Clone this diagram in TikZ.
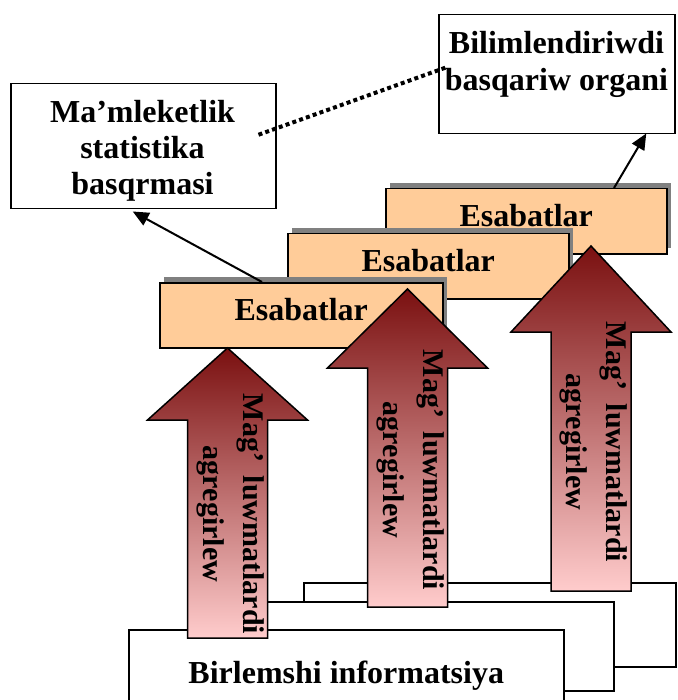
\documentclass[tikz,border=0pt]{standalone}
\usepackage{fontspec}
\setmainfont{Liberation Serif}
\usetikzlibrary{arrows.meta,calc}
\definecolor{orangefill}{HTML}{FFCC99}
\definecolor{shadowgray}{HTML}{808080}
\definecolor{arrowtop}{HTML}{7A1010}
\definecolor{arrowbot}{HTML}{FFCCCC}
\tikzset{
  whitebox/.style={draw=black, line width=1.5pt, fill=white, inner sep=0pt, anchor=north west},
  esbox/.style={draw=black, line width=1.5pt, fill=orangefill, inner sep=0pt, anchor=north west,
    minimum height=65pt, text depth=12pt, font=\fontsize{32}{36}\selectfont\bfseries},
  esshadow/.style={fill=shadowgray, draw=none, inner sep=0pt, anchor=north west, minimum height=65pt},
  bigtxt/.style={font=\fontsize{32}{36}\selectfont\bfseries, inner sep=0pt, align=center},
  arrtxt/.style={font=\fontsize{30}{40}\selectfont\bfseries, inner sep=0pt, align=center, rotate=-90},
  blockarrow/.style={draw=black, line width=1.5pt, line join=miter, top color=arrowtop, bottom color=arrowbot},
  link/.style={line width=2pt, -{Triangle[length=16pt,width=14pt]}},
  dotlink/.style={line width=4pt, line cap=butt, dash pattern=on 4pt off 3.2pt},
}
\begin{document}
\begin{tikzpicture}[x=1pt,y=-1pt]
\useasboundingbox (0,0) rectangle (677,700);
\clip (0,0) rectangle (677,700);
\fill[white] (0,0) rectangle (677,700);

% background stacked boxes
\node[whitebox, minimum width=372pt, minimum height=84pt] (b3) at (303,582) {};
\node[whitebox, minimum width=383pt, minimum height=89pt] (b2) at (230,601) {};
\node[whitebox, minimum width=435pt, minimum height=91pt, font=\fontsize{32}{36}\selectfont\bfseries] (b1) at (128,629) {Birlemshi informatsiya};

% Esabatlar boxes with shadows
\node[esshadow, minimum width=281pt] (s3) at (390,183) {};
\node[esbox, minimum width=281pt] (E3) at (385,188) {Esabatlar};
\node[esshadow, minimum width=281pt] (s2) at (292,228) {};
\node[esbox, minimum width=281pt] (E2) at (287,233) {Esabatlar};
\node[esshadow, minimum width=283pt] (s1) at (164,277) {};
\node[esbox, minimum width=283pt] (E1) at (159,282) {Esabatlar};

% block arrows
\path[blockarrow] (591,246) -- (671,332) -- (631,332) -- (631,591) -- (551,591) -- (551,332) -- (511,332) -- cycle;
\node[arrtxt] (t3) at (594,442) {Mag’\hspace{0.45em}luwmatlardi\\agregirlew};
\path[blockarrow] (407.5,289) -- (487.5,368) -- (447.5,368) -- (447.5,607) -- (367.5,607) -- (367.5,368) -- (327.5,368) -- cycle;
\node[arrtxt] (t2) at (411,470) {Mag’\hspace{0.45em}luwmatlardi\\agregirlew};
\path[blockarrow] (227.5,348) -- (307.5,420) -- (267.5,420) -- (267.5,638) -- (187.5,638) -- (187.5,420) -- (147.5,420) -- cycle;
\node[arrtxt] (t1) at (231,514) {Mag’\hspace{0.45em}luwmatlardi\\agregirlew};

% top boxes
\node[whitebox, minimum width=265pt, minimum height=125pt] (mstat) at (10,83) {};
\node[bigtxt, anchor=north] (mstatT) at (142.5,100) {Ma’mleketlik\\statistika\\basqrmasi};
\node[whitebox, minimum width=236pt, minimum height=119pt] (bil) at (438,14) {};
\node[bigtxt, anchor=north, font=\fontsize{32}{37}\selectfont\bfseries] (bilT) at (556.5,31.5) {Bilimlendiriwdi\\basqariw organi};

% connectors
\draw[link] ([xshift=103pt]E1.north west) -- ([xshift=-10.5pt,yshift=-2pt]mstat.south);
\draw[link] ([xshift=229pt]E3.north west) -- ([xshift=89.5pt,yshift=1pt]bil.south);
\draw[dotlink] ([xshift=-18pt,yshift=11.5pt]mstat.east) -- ([xshift=10pt,yshift=7.5pt]bil.west);
\end{tikzpicture}
\end{document}
